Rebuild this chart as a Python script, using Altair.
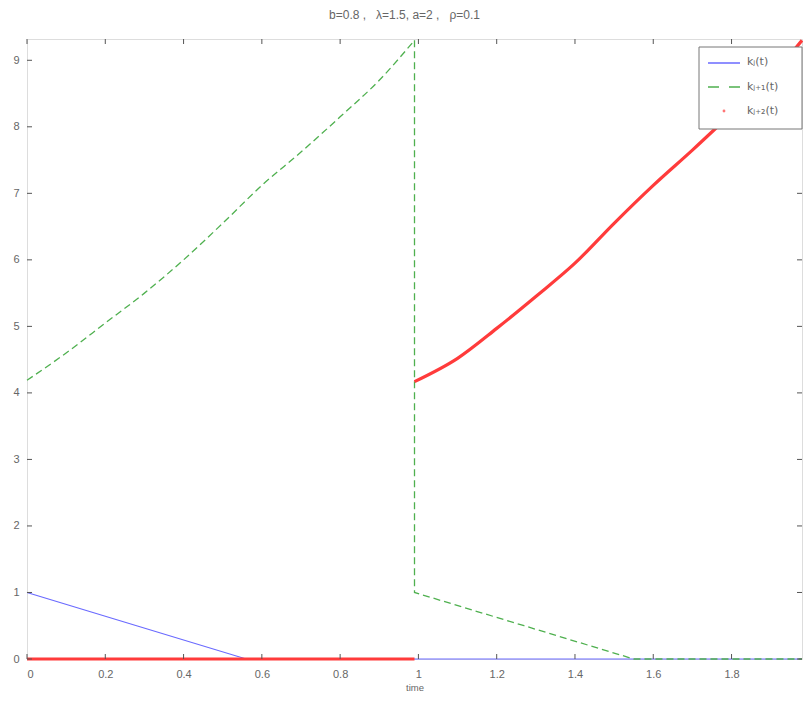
import altair as alt
import pandas as pd

# ---- data ----
blue_t = [0.0, 0.28, 0.56, 0.99, 1.98]
blue_k = [1.0, 0.5, 0.0, 0.0, 0.0]

green_curve_t = [0.0, 0.1, 0.2, 0.3, 0.4, 0.5, 0.6, 0.7, 0.8, 0.9, 0.99]
green_curve_k = [4.19, 4.6, 5.05, 5.5, 6.0, 6.55, 7.12, 7.62, 8.15, 8.7, 9.3]
green_drop_t = [0.99, 0.99, 1.27, 1.55, 1.98]
green_drop_k = [9.3, 1.0, 0.5, 0.0, 0.0]

red_seg = [0, 0, 1, 1, 1, 1, 1, 1, 1, 1, 1, 1, 1]
red_t = [0.0, 0.99, 0.99, 1.1, 1.2, 1.3, 1.4, 1.5, 1.6, 1.7, 1.8, 1.9, 1.98]
red_k = [0.0, 0.0, 4.17, 4.52, 4.97, 5.45, 5.95, 6.55, 7.12, 7.65, 8.2, 8.75, 9.3]

x_ticks = [0, 0.2, 0.4, 0.6, 0.8, 1.0, 1.2, 1.4, 1.6, 1.8]
y_ticks = [0, 1, 2, 3, 4, 5, 6, 7, 8, 9]

legend_labels = ["kⱼ(t)", "kⱼ₊₁(t)", "kⱼ₊₂(t)"]
NB = "\u00a0"
title_text = f"b=0.8{NB},{NB}{NB}{NB}λ=1.5,{NB}a=2{NB},{NB}{NB}{NB}ρ=0.1"

W, H = 775, 620
XDOM = [0, 1.98]
YDOM = [0, 9.32]

FONT = "Liberation Sans"
TXT = "#666666"

blue_df = pd.DataFrame({"t": blue_t, "k": blue_k, "i": range(len(blue_t))})
gc_df = pd.DataFrame({"t": green_curve_t, "k": green_curve_k, "i": range(len(green_curve_t))})
gd_df = pd.DataFrame({"t": green_drop_t, "k": green_drop_k, "i": range(len(green_drop_t))})
red_df = pd.DataFrame({"t": red_t, "k": red_k, "seg": red_seg, "i": range(len(red_t))})
xt_df = pd.DataFrame({"v": x_ticks})
yt_df = pd.DataFrame({"v": y_ticks})

xs = alt.Scale(domain=XDOM, nice=False, zero=False)
ys = alt.Scale(domain=YDOM, nice=False, zero=False)

x_axis = alt.Axis(values=x_ticks, format="~g", ticks=False, domain=False, grid=False,
                  labelPadding=9, labelFontSize=11, labelColor=TXT, labelFont=FONT,
                  title="time", titleFontSize=9.5, titleFontWeight="normal",
                  titleColor=TXT, titleFont=FONT, titlePadding=3)
y_axis = alt.Axis(values=y_ticks, format="d", ticks=False, domain=False, grid=False,
                  labelPadding=8, labelFontSize=11, labelColor=TXT, labelFont=FONT,
                  title=None)

BLUE = "#6a6aff"
GREEN = "#4fb04f"
RED = "#ff3b3b"

blue = alt.Chart(blue_df).mark_line(color=BLUE, strokeWidth=1.2).encode(
    x=alt.X("t:Q", scale=xs, axis=x_axis),
    y=alt.Y("k:Q", scale=ys, axis=y_axis),
    order="i:Q",
)
green_curve = alt.Chart(gc_df).mark_line(color=GREEN, strokeWidth=1.3, strokeDash=[7, 4],
                                         interpolate="monotone").encode(
    x=alt.X("t:Q", scale=xs),
    y=alt.Y("k:Q", scale=ys),
    order="i:Q",
)
green_drop = alt.Chart(gd_df).mark_line(color=GREEN, strokeWidth=1.3, strokeDash=[7, 4]).encode(
    x=alt.X("t:Q", scale=xs),
    y=alt.Y("k:Q", scale=ys),
    order="i:Q",
)
red = alt.Chart(red_df).mark_line(color=RED, strokeWidth=3.2, interpolate="monotone").encode(
    x=alt.X("t:Q", scale=xs),
    y=alt.Y("k:Q", scale=ys),
    detail="seg:N",
    order="i:Q",
)

TK = "#555555"
tick_b = alt.Chart(xt_df).mark_rule(color=TK).encode(
    x=alt.X("v:Q", scale=xs), y=alt.value(H), y2=alt.value(H - 5))
tick_t = alt.Chart(xt_df).mark_rule(color=TK).encode(
    x=alt.X("v:Q", scale=xs), y=alt.value(0), y2=alt.value(5))
tick_l = alt.Chart(yt_df).mark_rule(color=TK).encode(
    y=alt.Y("v:Q", scale=ys), x=alt.value(0), x2=alt.value(5))
tick_r = alt.Chart(yt_df).mark_rule(color=TK).encode(
    y=alt.Y("v:Q", scale=ys), x=alt.value(W), x2=alt.value(W - 5))

# ---- manual legend box (MATLAB style) ----
one = pd.DataFrame({"a": [0]})
LX0, LX1, LY0, LY1 = 672, 775, 8, 90
leg_box = alt.Chart(one).mark_rect(fill="white", stroke="#777777", strokeWidth=1).encode(
    x=alt.value(LX0), x2=alt.value(LX1), y=alt.value(LY0), y2=alt.value(LY1))
leg_blue = alt.Chart(one).mark_rule(color=BLUE, strokeWidth=1.5).encode(
    x=alt.value(LX0 + 9), x2=alt.value(LX0 + 41), y=alt.value(24))
leg_green = alt.Chart(one).mark_rule(color=GREEN, strokeWidth=1.5, strokeDash=[11, 10]).encode(
    x=alt.value(LX0 + 9), x2=alt.value(LX0 + 41), y=alt.value(48))
leg_red = alt.Chart(one).mark_point(color=RED, filled=True, size=8).encode(
    x=alt.value(LX0 + 25), y=alt.value(72))
leg_text = [
    alt.Chart(one).mark_text(text=lbl, align="left", baseline="middle", fontSize=11,
                             font="DejaVu Sans", color=TXT).encode(
        x=alt.value(LX0 + 48), y=alt.value(yy))
    for lbl, yy in zip(legend_labels, [23, 48, 72])
]

chart = alt.layer(
    blue, green_curve, green_drop, red, tick_b, tick_t, tick_l, tick_r,
    leg_box, leg_blue, leg_green, leg_red, *leg_text
).properties(
    width=W, height=H,
    title=alt.TitleParams(title_text, fontSize=12, fontWeight="normal", color=TXT,
                          font=FONT, anchor="middle", dx=-10, offset=12),
    autosize=alt.AutoSizeParams(type="none"),
    padding={"left": 19, "top": 31, "right": 1, "bottom": 34},
).configure_view(
    stroke="#9a9a8a", strokeWidth=1.2
).configure(background="white")

chart.save("out.html", embed_options={"renderer": "svg", "actions": False})
